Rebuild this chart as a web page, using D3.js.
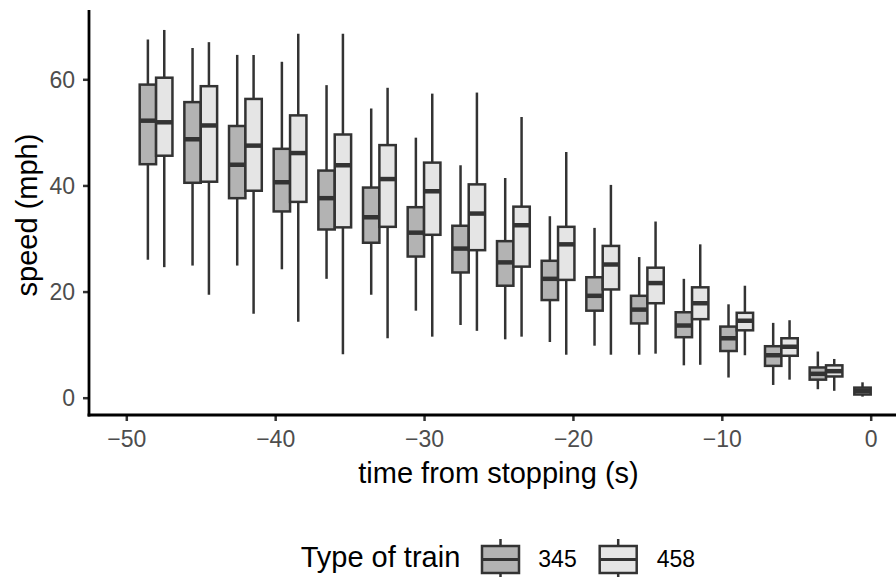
<!DOCTYPE html>
<html>
<head>
<meta charset="utf-8">
<script src="https://cdn.jsdelivr.net/npm/d3@7"></script>
<style>
  html, body { margin: 0; padding: 0; background: #fff; }
  svg { display: block; font-family: "Liberation Sans", Arial, Helvetica, sans-serif; }
</style>
</head>
<body>
<svg id="chart" width="896" height="577"></svg>
<script>
// Seconds before the train comes to a stop (box groups)
const times = [-48, -45, -42, -39, -36, -33, -30, -27, -24, -21, -18, -15, -12, -9, -6, -3, 0];

// Class 345: whisker ends, quartiles and medians (mph)
const lower345  = [26.0, 24.9, 24.9, 24.2, 22.4, 19.4, 16.4, 13.7, 11.0, 10.5, 9.8, 8.1, 6.1, 3.8, 2.4, 1.6, 0.2];
const q1_345    = [44.0, 40.5, 37.6, 35.1, 31.7, 29.2, 26.6, 23.6, 21.1, 18.4, 16.4, 14.0, 11.4, 8.8, 6.0, 3.4, 0.6];
const median345 = [52.2, 48.7, 43.9, 40.6, 37.6, 34.0, 31.1, 28.1, 25.5, 22.4, 19.2, 16.6, 13.6, 11.2, 8.0, 4.5, 1.3];
const q3_345    = [59.0, 55.7, 51.2, 46.9, 42.8, 39.6, 35.9, 32.4, 29.5, 25.8, 22.7, 19.2, 16.1, 13.4, 9.7, 5.7, 1.9];
const upper345  = [67.5, 65.9, 64.6, 63.3, 58.9, 54.5, 49.0, 43.8, 41.4, 34.2, 32.0, 26.5, 22.4, 17.6, 14.1, 8.7, 2.9];

// Class 458: whisker ends, quartiles and medians (mph); no record at 0 s
const lower458  = [24.6, 19.4, 15.8, 14.3, 8.2, 11.2, 11.5, 12.6, 11.5, 8.1, 8.1, 8.3, 6.2, 8.0, 3.4, 1.3, null];
const q1_458    = [45.6, 40.7, 39.0, 36.9, 32.1, 32.2, 30.7, 27.8, 24.7, 22.2, 20.4, 17.8, 14.8, 12.7, 7.9, 4.0, null];
const median458 = [51.9, 51.3, 47.5, 46.1, 43.8, 41.2, 38.9, 34.7, 32.5, 28.9, 25.1, 21.6, 17.8, 14.5, 9.6, 5.0, null];
const q3_458    = [60.3, 58.7, 56.3, 53.2, 49.6, 47.6, 44.3, 40.2, 36.0, 32.2, 28.6, 24.5, 20.8, 16.0, 11.2, 6.1, null];
const upper458  = [69.3, 67.0, 64.6, 68.6, 68.6, 58.4, 57.3, 57.5, 52.9, 46.3, 40.1, 33.2, 28.9, 21.1, 14.6, 7.3, null];

const trainTypes = ["345", "458"];
const fills = ["#b3b3b3", "#e5e5e5"];
const xTicks = [-50, -40, -30, -20, -10, 0];
const yTicks = [0, 20, 40, 60];

const series = [
  { lower: lower345, q1: q1_345, median: median345, q3: q3_345, upper: upper345 },
  { lower: lower458, q1: q1_458, median: median458, q3: q3_458, upper: upper458 }
];

const svg = d3.select("#chart");
const ink = "#333333";
const lineW = 2.5;

const x = d3.scaleLinear().domain([-50, 0]).range([126.3, 870.7]);
const y = d3.scaleLinear().domain([0, 60]).range([397.7, 79.3]);

// side-by-side placement of the two train types within each time group
const boxWidth = 1.1;                      // seconds
const dodge = d3.scaleBand().domain(trainTypes).range([-boxWidth, boxWidth]);

const plot = svg.append("g");

series.forEach((s, si) => {
  const g = plot.append("g");
  times.forEach((t, i) => {
    if (s.median[i] == null) return;
    const left = x(t + dodge(trainTypes[si]));
    const right = x(t + dodge(trainTypes[si]) + dodge.bandwidth());
    const cx = (left + right) / 2;
    g.append("line")
      .attr("x1", cx).attr("x2", cx)
      .attr("y1", y(s.lower[i])).attr("y2", y(s.upper[i]))
      .attr("stroke", ink).attr("stroke-width", lineW);
    g.append("rect")
      .attr("x", left).attr("width", right - left)
      .attr("y", y(s.q3[i])).attr("height", y(s.q1[i]) - y(s.q3[i]))
      .attr("fill", fills[si]).attr("stroke", ink).attr("stroke-width", lineW);
    g.append("line")
      .attr("x1", left).attr("x2", right)
      .attr("y1", y(s.median[i])).attr("y2", y(s.median[i]))
      .attr("stroke", ink).attr("stroke-width", 4.5);
  });
});

// axes
const yAxis = svg.append("g")
  .attr("transform", "translate(89,0)")
  .call(d3.axisLeft(y).tickValues(yTicks).tickSize(6).tickPadding(8).tickSizeOuter(0));
const xAxis = svg.append("g")
  .attr("transform", "translate(0,415)")
  .call(d3.axisBottom(x).tickValues(xTicks).tickSize(6).tickPadding(10).tickSizeOuter(0));

[yAxis, xAxis].forEach(a => {
  a.select(".domain").remove();
  a.selectAll(".tick line").attr("stroke", ink).attr("stroke-width", 2.5);
  a.selectAll(".tick text")
    .attr("fill", "#4d4d4d")
    .style("font-size", "23px")
    .style("font-family", "Liberation Sans, Arial, sans-serif");
});
yAxis.selectAll(".tick text").attr("dy", "0.35em");
xAxis.selectAll(".tick text").attr("dy", "0.71em");

svg.append("line")
  .attr("x1", 89).attr("x2", 89).attr("y1", 10).attr("y2", 416.4)
  .attr("stroke", "#000").attr("stroke-width", 2.8);
svg.append("line")
  .attr("x1", 87.6).attr("x2", 896).attr("y1", 415).attr("y2", 415)
  .attr("stroke", "#000").attr("stroke-width", 2.8);

// axis titles
svg.append("text")
  .attr("x", 498.5).attr("y", 483)
  .attr("text-anchor", "middle")
  .style("font-size", "29px")
  .attr("fill", "#000")
  .text("time from stopping (s)");

svg.append("text")
  .attr("transform", "translate(37,215) rotate(-90)")
  .attr("text-anchor", "middle")
  .style("font-size", "29px")
  .attr("fill", "#000")
  .text("speed (mph)");

// legend
const legend = svg.append("g");
legend.append("text")
  .attr("x", 300.7).attr("y", 567)
  .style("font-size", "29px")
  .attr("fill", "#000")
  .text("Type of train");

const keyX = [482, 599.7];
const labelX = [538.3, 656.7];
trainTypes.forEach((name, i) => {
  const k = legend.append("g");
  const cx = keyX[i] + 18.5;
  k.append("line")
    .attr("x1", cx).attr("x2", cx).attr("y1", 539).attr("y2", 580)
    .attr("stroke", ink).attr("stroke-width", lineW);
  k.append("rect")
    .attr("x", keyX[i]).attr("y", 546).attr("width", 37).attr("height", 27)
    .attr("fill", fills[i]).attr("stroke", ink).attr("stroke-width", lineW);
  k.append("line")
    .attr("x1", keyX[i]).attr("x2", keyX[i] + 37).attr("y1", 559.5).attr("y2", 559.5)
    .attr("stroke", ink).attr("stroke-width", 2.8);
  k.append("text")
    .attr("x", labelX[i]).attr("y", 567)
    .style("font-size", "23px")
    .attr("fill", "#000")
    .text(name);
});
</script>
</body>
</html>
